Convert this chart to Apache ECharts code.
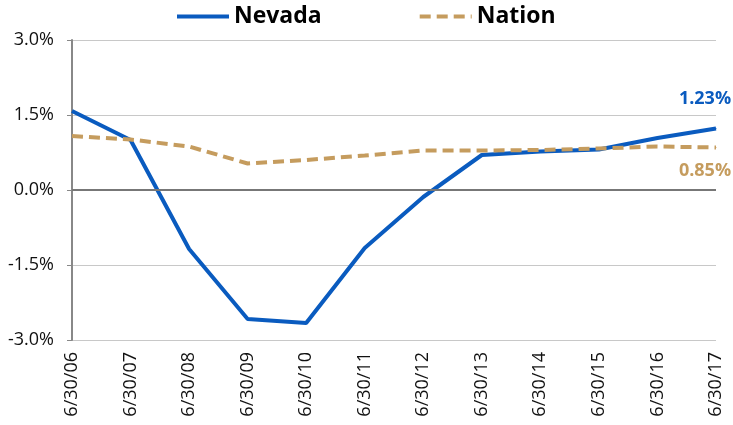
<!DOCTYPE html>
<html>
<head>
<meta charset="utf-8">
<script src="https://cdn.jsdelivr.net/npm/echarts@6/dist/echarts.min.js"></script>
<style>
  html, body { margin: 0; padding: 0; background: #fff; }
  #chart { width: 733px; height: 425px; }
</style>
</head>
<body>
<div id="chart"></div>
<script>
  // data
  const dates = ['6/30/06', '6/30/07', '6/30/08', '6/30/09', '6/30/10', '6/30/11',
                 '6/30/12', '6/30/13', '6/30/14', '6/30/15', '6/30/16', '6/30/17']
  const nevada = [1.58, 1.0, -1.18, -2.58, -2.66, -1.16, -0.14, 0.70, 0.77, 0.81, 1.04, 1.23]
  const nation = [1.08, 1.01, 0.87, 0.53, 0.60, 0.69, 0.79, 0.79, 0.80, 0.83, 0.87, 0.85]

  const blue = '#0a5bbf'
  const tan = '#c59c5e'
  const font = '"Open Sans", "Liberation Sans", sans-serif'
  const dash = [11, 6]

  // only the last point gets a value label
  function withEndLabel(arr, color, pos, dist) {
    return arr.map((v, i) => {
      if (i !== arr.length - 1) return v
      return {
        value: v,
        symbol: 'circle',
        symbolSize: 1,
        label: {
          show: true,
          position: pos,
          distance: dist,
          offset: [-11, 0],
          formatter: v.toFixed(2) + '%',
          color: color,
          fontFamily: font,
          fontWeight: 'bold',
          fontSize: 18
        }
      }
    })
  }

  let myChart = echarts.init(document.getElementById('chart'))
  let option = {
    animation: false,
    legend: {
      top: 0,
      left: 170,
      itemWidth: 52,
      itemHeight: 14,
      itemGap: 96,
      itemStyle: { opacity: 0 },
      textStyle: { fontFamily: font, fontWeight: 'bold', fontSize: 23, color: '#000' },
      data: [
        { name: 'Nevada', lineStyle: { width: 4 } },
        { name: 'Nation', lineStyle: { width: 4, type: dash } }
      ]
    },
    grid: { left: 72, right: 17, top: 40, bottom: 85 },
    xAxis: {
      type: 'category',
      boundaryGap: false,
      data: dates,
      axisLine: { show: false },
      axisTick: { show: false },
      axisLabel: { rotate: 90, margin: 12, fontFamily: font, fontSize: 18, color: '#111' }
    },
    yAxis: {
      type: 'value',
      min: -3,
      max: 3,
      interval: 1.5,
      axisLine: { show: true, lineStyle: { color: '#888', width: 2 } },
      axisTick: { show: true, length: 5, lineStyle: { color: '#888', width: 1 } },
      axisLabel: {
        margin: 18,
        fontFamily: font, fontSize: 18, color: '#111',
        formatter: v => v.toFixed(1) + '%'
      },
      splitLine: { lineStyle: { color: '#c8c8c8', width: 1 } }
    },
    series: [
      {
        name: 'Nevada',
        type: 'line',
        symbol: 'none',
        data: withEndLabel(nevada, blue, 'top', 20),
        itemStyle: { color: blue },
        lineStyle: { color: blue, width: 4 },
        z: 3,
        markLine: {
          silent: true,
          symbol: 'none',
          label: { show: false },
          lineStyle: { color: '#777', type: 'solid', width: 2 },
          data: [{ yAxis: 0 }]
        }
      },
      {
        name: 'Nation',
        type: 'line',
        symbol: 'none',
        data: withEndLabel(nation, tan, 'bottom', 14),
        itemStyle: { color: tan },
        lineStyle: { color: tan, width: 4, type: dash },
        z: 4
      }
    ]
  }
  myChart.setOption(option)
</script>
</body>
</html>
